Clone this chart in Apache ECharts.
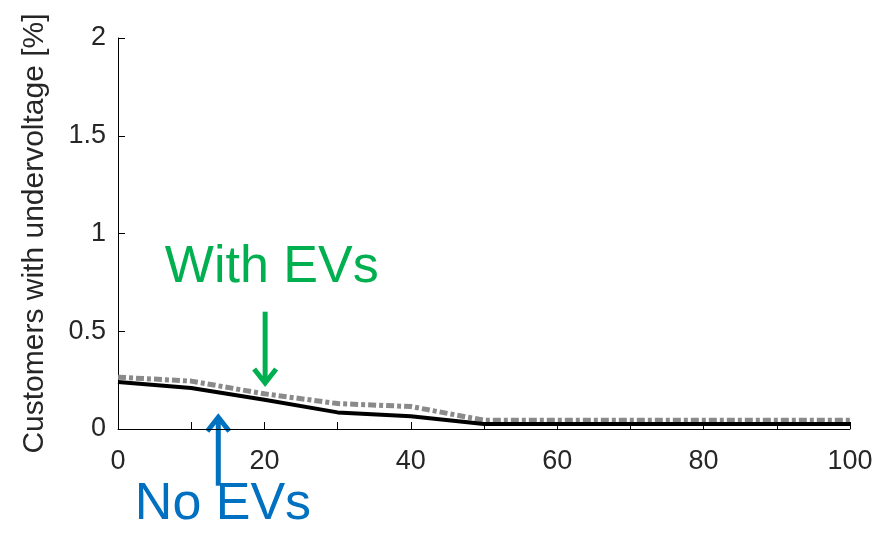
<!DOCTYPE html>
<html>
<head>
<meta charset="utf-8">
<script src="https://cdn.jsdelivr.net/npm/echarts@6/dist/echarts.min.js"></script>
<style>
  html, body { margin: 0; padding: 0; background: #fff; }
  #graph { width: 889px; height: 536px; }
</style>
</head>
<body>
<div id="graph"></div>
<script>
"use strict"

// share of EVs [%]
const xVals = [0, 10, 20, 30, 40, 50, 60, 70, 80, 90, 100];
// customers with undervoltage [%]
const noEVs = [0.24, 0.21, 0.15, 0.085, 0.065, 0.025, 0.025, 0.025, 0.025, 0.025, 0.025];
const withEVs = [0.265, 0.245, 0.18, 0.13, 0.115, 0.045, 0.045, 0.045, 0.045, 0.045, 0.045];
const yTicks = [0, 0.5, 1, 1.5, 2];

const textColor = "#262626";
const green = "#00B050", blue = "#0070C0";

const myChart = echarts.init(document.getElementById("graph"), null, { renderer: "canvas" });

const option = {
    animation: false,
    grid: { left: 118, right: 39, top: 38, bottom: 107 },
    xAxis: {
        type: "value",
        min: 0,
        max: 100,
        interval: 10,
        axisLine: { lineStyle: { color: "#000", width: 1 } },
        axisTick: { inside: true, length: 7, lineStyle: { color: "#000" } },
        splitLine: { show: false },
        axisLabel: {
            fontFamily: "Liberation Sans", fontSize: 27, color: textColor, margin: 19,
            formatter: val => val % 20 === 0 ? String(val) : ""
        }
    },
    yAxis: {
        type: "value",
        min: yTicks[0],
        max: yTicks[yTicks.length - 1],
        interval: 0.5,
        name: "Customers with undervoltage [%]",
        nameLocation: "middle",
        nameGap: 68,
        nameTextStyle: { fontFamily: "Liberation Sans", fontSize: 30, color: textColor },
        axisLine: { show: true, lineStyle: { color: "#000", width: 1 } },
        axisTick: { show: true, inside: true, length: 7, lineStyle: { color: "#000" } },
        splitLine: { show: false },
        axisLabel: { fontFamily: "Liberation Sans", fontSize: 27, color: textColor, margin: 12 }
    },
    series: [
        {
            name: "With EVs",
            type: "line",
            data: xVals.map((x, i) => [x, withEVs[i]]),
            showSymbol: false,
            lineStyle: { color: "#8a8a8a", width: 5, type: [8, 3, 4, 3] },
            z: 2
        },
        {
            name: "No EVs",
            type: "line",
            data: xVals.map((x, i) => [x, noEVs[i]]),
            showSymbol: false,
            lineStyle: { color: "#000", width: 4 },
            z: 3
        }
    ]
};
myChart.setOption(option);

// annotation arrows, anchored in data coordinates
function arrow(from, to, color)
{
    const p1 = myChart.convertToPixel({ gridIndex: 0 }, from);
    const p2 = myChart.convertToPixel({ gridIndex: 0 }, to);
    const dir = p2[1] > p1[1] ? 1 : -1;
    return [
        { type: "line", shape: { x1: p1[0], y1: p1[1], x2: p2[0], y2: p2[1] - dir * 2 },
          style: { stroke: color, lineWidth: 5 } },
        { type: "polyline", shape: { points: [[p2[0] - 11, p2[1] - dir * 16], [p2[0], p2[1] - dir * 2], [p2[0] + 11, p2[1] - dir * 16]] },
          style: { stroke: color, lineWidth: 5, fill: null, lineJoin: "miter" } }
    ];
}
function label(text, at, color)
{
    const p = myChart.convertToPixel({ gridIndex: 0 }, at);
    return { type: "text", x: p[0], y: p[1],
             style: { text: text, fill: color, font: "52px 'Liberation Sans'", textAlign: "left", textVerticalAlign: "bottom" } };
}

myChart.setOption({
    graphic: [
        ...arrow([20.1, 0.6], [20.1, 0.225], green),
        ...arrow([13.7, -0.29], [13.7, 0.07], blue),
        label("With EVs", [6.4, 0.69], green),
        label("No EVs", [2.3, -0.52], blue)
    ]
});
</script>
</body>
</html>
